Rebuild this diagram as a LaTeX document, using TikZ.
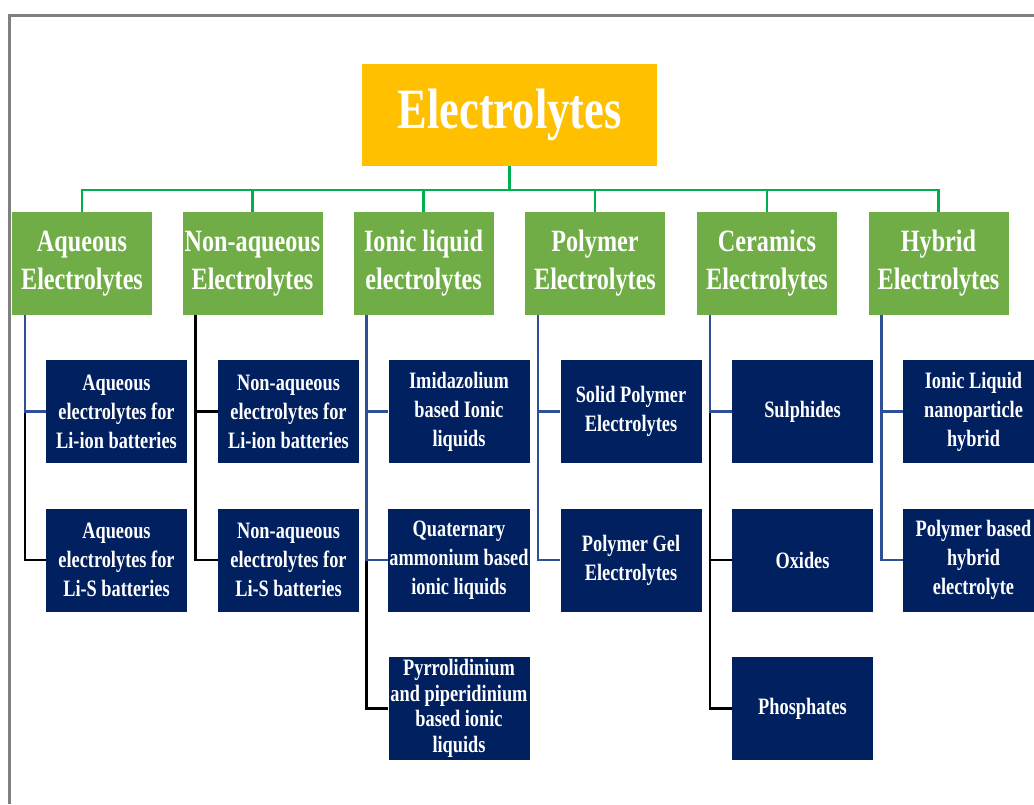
\documentclass[tikz,border=0pt]{standalone}
\usepackage{fontspec}
\setmainfont[FakeStretch=0.78]{Liberation Serif}
\definecolor{rootfill}{HTML}{FFC000}
\definecolor{catfill}{HTML}{70AD47}
\definecolor{subfill}{HTML}{002060}
\definecolor{busline}{HTML}{00B050}
\definecolor{subline}{HTML}{2F4F96}
\begin{document}
\begin{tikzpicture}[x=1pt,y=-1pt,
  root/.style={fill=rootfill,text=white,minimum width=295,minimum height=102,inner sep=1pt,font=\bfseries\fontsize{57}{64}\selectfont},
  cat/.style={fill=catfill,text=white,minimum width=140,minimum height=103,inner sep=0pt,align=center,font=\bfseries\fontsize{31}{38}\selectfont},
  sub/.style={fill=subfill,text=white,minimum width=141,minimum height=103,inner sep=1pt,align=center,font=\bfseries\fontsize{23.5}{29}\selectfont},
  bus/.style={busline,line width=2.5pt},
  blu/.style={subline,line width=2.5pt},
  blk/.style={black,line width=2.5pt}]
\useasboundingbox (0,0) rectangle (1034,804);
\draw[gray,line width=3pt] (9,804) -- (9,15) -- (1034,15);
\node[root] (root) at (509.5,115) {Electrolytes};
\node[cat] (g1) at (82,263.5) {Aqueous\\Electrolytes};
\node[cat] (g2) at (252.5,263.5) {Non-aqueous\\Electrolytes};
\node[cat] (g3) at (423.5,263.5) {Ionic liquid\\electrolytes};
\node[cat] (g4) at (595,263.5) {Polymer\\Electrolytes};
\node[cat] (g5) at (767,263.5) {Ceramics\\Electrolytes};
\node[cat] (g6) at (938.5,263.5) {Hybrid\\Electrolytes};
\node[sub] (c11) at (116.5,411.5) {Aqueous\\electrolytes for\\Li-ion batteries};
\node[sub] (c12) at (116.5,560) {Aqueous\\electrolytes for\\Li-S batteries};
\node[sub] (c21) at (288.5,411.5) {Non-aqueous\\electrolytes for\\Li-ion batteries};
\node[sub] (c22) at (288.5,560) {Non-aqueous\\electrolytes for\\Li-S batteries};
\node[sub] (c31) at (459,411.5) {Imidazolium\\based Ionic\\liquids};
\node[sub] (c32) at (459,560) {Quaternary\\ammonium based\\ionic liquids};
\node[sub,font=\bfseries\fontsize{23.5}{25.5}\selectfont] (c33) at (459,708.5) {Pyrrolidinium\\and piperidinium\\based ionic\\liquids};
\node[sub] (c41) at (631,411.5) {Solid Polymer\\Electrolytes};
\node[sub] (c42) at (631,560) {Polymer Gel\\Electrolytes};
\node[sub] (c51) at (802.5,411.5) {Sulphides};
\node[sub] (c52) at (802.5,560) {Oxides};
\node[sub] (c53) at (802.5,708.5) {Phosphates};
\node[sub] (c61) at (973.5,411.5) {Ionic Liquid\\nanoparticle\\hybrid};
\node[sub] (c62) at (973.5,560) {Polymer based\\hybrid\\electrolyte};
\coordinate (bus) at (509.5,190);
\draw[bus] (root.south) -- (bus);
\foreach \g in {g1,g2,g3,g4,g5,g6}
  \draw[bus] (bus) -| (\g.north);
\draw[blk] ([xshift=13]g1.south west) |- (c12.west);
\draw[blu] ([xshift=13]g1.south west) |- (c11.west);
\draw[blk] ([xshift=13]g2.south west) |- (c22.west);
\draw[blk] ([xshift=13]g2.south west) |- (c21.west);
\draw[blk] ([xshift=13]g3.south west) |- (c33.west);
\draw[blu] ([xshift=13]g3.south west) |- (c32.west);
\draw[blu] ([xshift=13]g3.south west) |- (c31.west);
\draw[blu] ([xshift=13]g4.south west) |- (c42.west);
\draw[blu] ([xshift=13]g4.south west) |- (c41.west);
\draw[blk] ([xshift=13]g5.south west) |- (c53.west);
\draw[blk] ([xshift=13]g5.south west) |- (c52.west);
\draw[blu] ([xshift=13]g5.south west) |- (c51.west);
\draw[blu] ([xshift=13]g6.south west) |- (c62.west);
\draw[blu] ([xshift=13]g6.south west) |- (c61.west);
\end{tikzpicture}
\end{document}
